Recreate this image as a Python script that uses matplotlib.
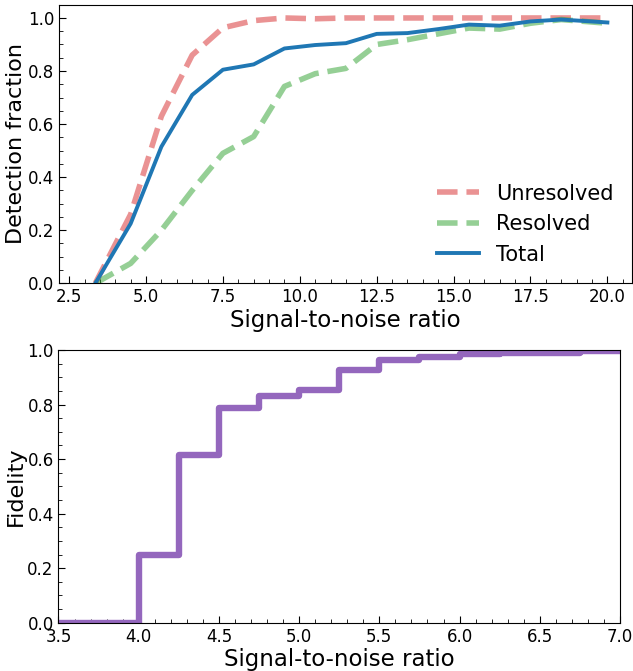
import matplotlib
matplotlib.use("Agg")
import matplotlib.pyplot as plt
import numpy as np

# detection fraction vs S/N
snr = [3.35, 4.5, 5.5, 6.5, 7.5, 8.5, 9.5, 10.5, 11.5, 12.5, 13.5, 14.5, 15.5, 16.5, 17.5, 18.5, 20.0]
unresolved = [0.0, 0.26, 0.63, 0.86, 0.963, 0.99, 1.0, 0.997, 1.0, 1.0, 1.0, 1.0, 1.0, 1.0, 1.0, 1.0, 1.0]
resolved = [0.0, 0.075, 0.2, 0.35, 0.49, 0.553, 0.742, 0.79, 0.81, 0.9, 0.918, 0.94, 0.962, 0.958, 0.98, 0.994, 0.98]
total = [0.0, 0.225, 0.515, 0.71, 0.805, 0.825, 0.885, 0.898, 0.905, 0.94, 0.943, 0.958, 0.975, 0.971, 0.987, 0.994, 0.983]

# fidelity vs S/N (step edges)
fid_snr = [3.5, 4.0, 4.25, 4.5, 4.75, 5.0, 5.25, 5.5, 5.75, 6.0, 6.25, 6.5, 6.75, 7.0]
fidelity = [0.0, 0.25, 0.615, 0.787, 0.833, 0.855, 0.928, 0.962, 0.975, 0.987, 0.99, 0.99, 0.995, 0.995]

fig = plt.figure(figsize=(6.33, 6.71), dpi=100)
ax1 = fig.add_axes([0.0932, 0.5778, 0.9052, 0.4152])
ax2 = fig.add_axes([0.0924, 0.072, 0.8871, 0.4064])

ax1.plot(snr, unresolved, '--', color='#d62728', alpha=0.5, lw=4, label='Unresolved')
ax1.plot(snr, resolved, '--', color='#2ca02c', alpha=0.5, lw=4, label='Resolved')
ax1.plot(snr, total, '-', color='#1f77b4', lw=2.8, label='Total')
ax1.set_xlim(2.17, 20.8)
ax1.set_ylim(0, 1.05)
ax1.set_xlabel('Signal-to-noise ratio', fontsize=16.5, labelpad=2)
ax1.set_ylabel('Detection fraction', fontsize=16, labelpad=1)
ax1.legend(loc='lower right', fontsize=15, frameon=False, labelspacing=0.5,
           borderaxespad=0.5)

ax2.step(fid_snr, fidelity, where='post', color='#9467bd', lw=4.6)
ax2.set_xlim(3.5, 7.0)
ax2.set_ylim(0, 1.0)
ax2.set_xlabel('Signal-to-noise ratio', fontsize=16.5, labelpad=2)
ax2.set_ylabel('Fidelity', fontsize=16, labelpad=1)

for ax in (ax1, ax2):
    ax.minorticks_on()
    ax.tick_params(which='both', direction='in', labelsize=12, top=False, right=False)
    ax.tick_params(which='major', length=5)
    ax.tick_params(which='minor', length=3)

fig.savefig('out.png', dpi=100)
